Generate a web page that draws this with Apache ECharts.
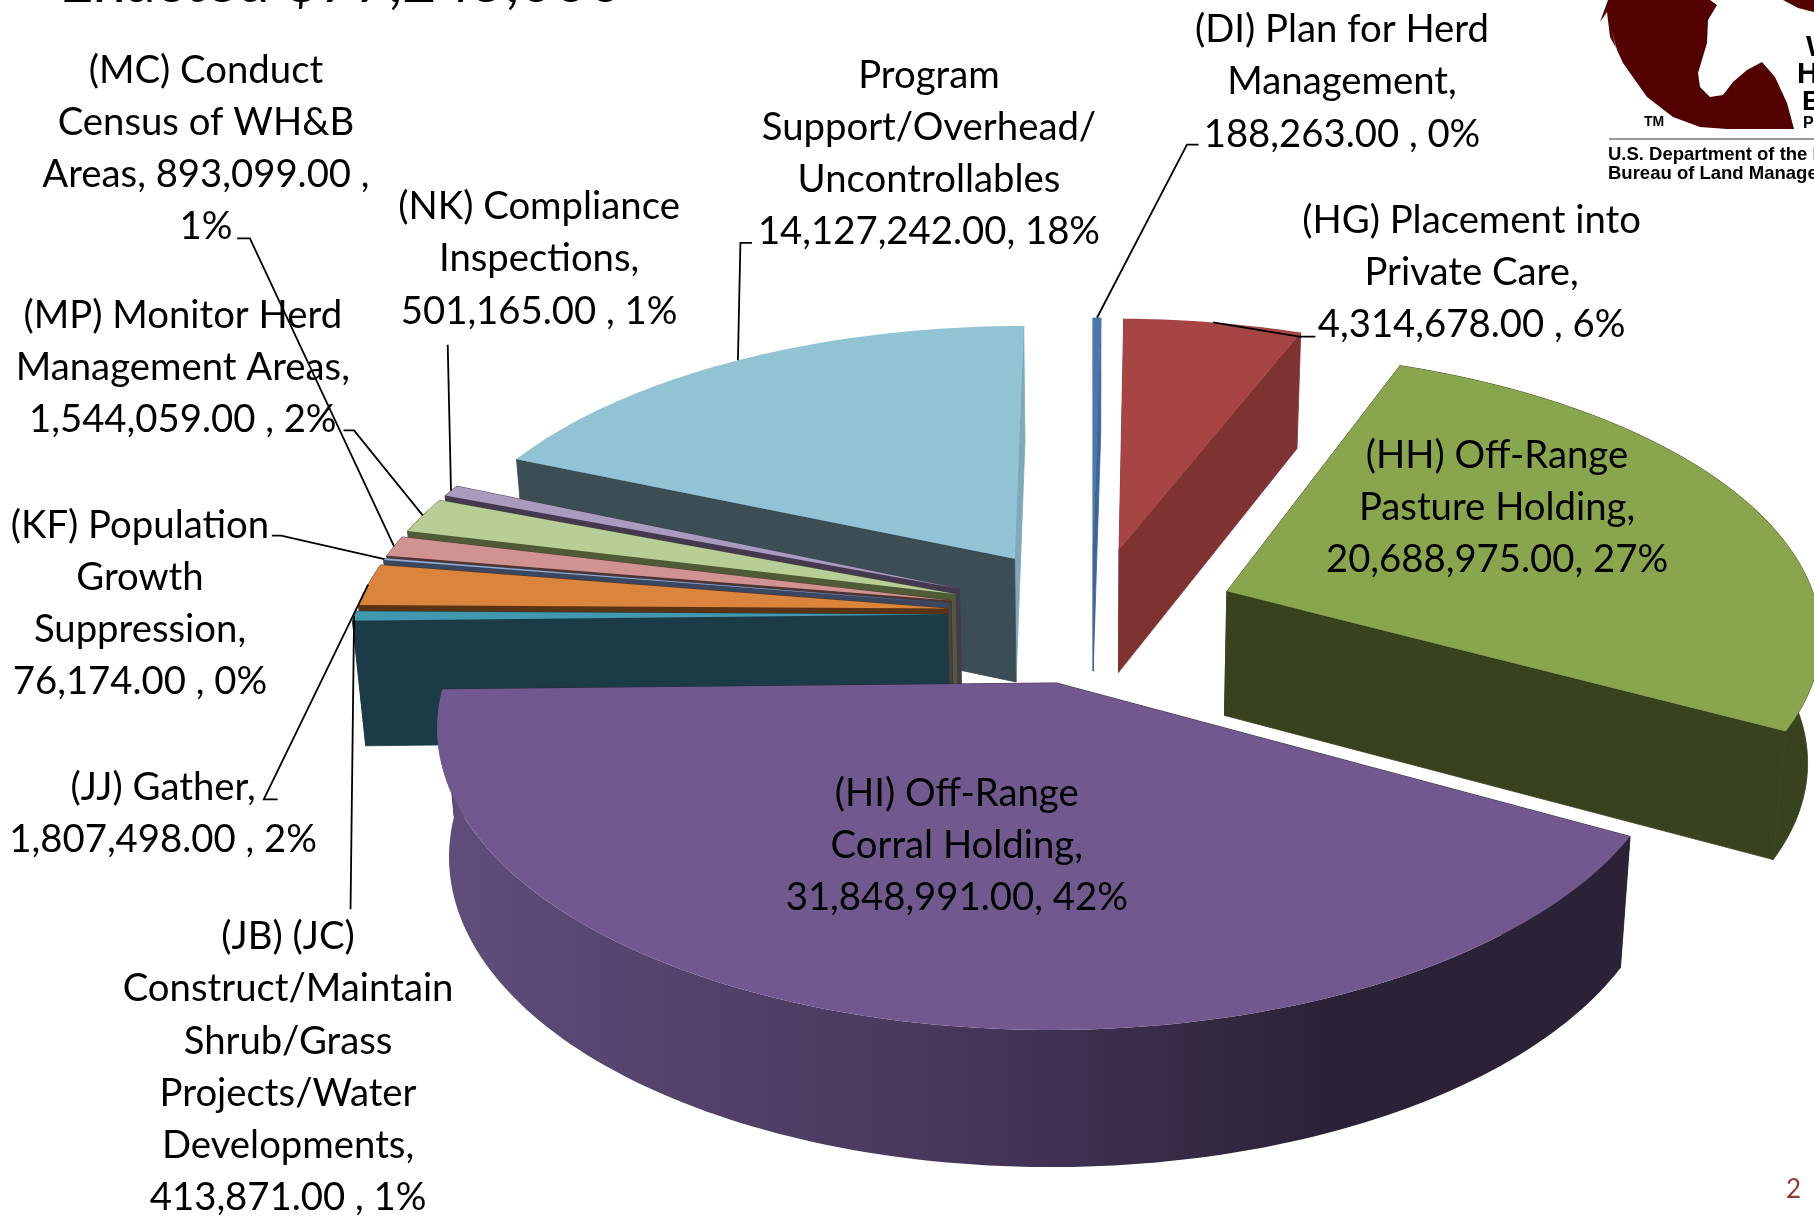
<!DOCTYPE html>
<html><head><meta charset="utf-8"><style>html,body{margin:0;padding:0;background:#fff;overflow:hidden}#c{width:1814px;height:1217px}</style>
<script src="https://cdn.jsdelivr.net/npm/echarts@6/dist/echarts.min.js"></script></head>
<body><div id="c"></div>
<script>
const categories = ["(DI) Plan for Herd Management","(HG) Placement into Private Care","(HH) Off-Range Pasture Holding","(HI) Off-Range Corral Holding","(JB) (JC) Construct/Maintain Shrub/Grass Projects/Water Developments","(JJ) Gather","(KF) Population Growth Suppression","(MC) Conduct Census of WH&B Areas","(MP) Monitor Herd Management Areas","(NK) Compliance Inspections","Program Support/Overhead/Uncontrollables"];
const values = [188263,4314678,20688975,31848991,413871,1807498,76174,893099,1544059,501165,14127242];
const labelLines = [
 ["(DI) Plan for Herd","Management,","188,263.00 , 0%"],
 ["(HG) Placement into","Private Care,","4,314,678.00 , 6%"],
 ["(HH) Off-Range","Pasture Holding,","20,688,975.00, 27%"],
 ["(HI) Off-Range","Corral Holding,","31,848,991.00, 42%"],
 ["(JB) (JC)","Construct/Maintain","Shrub/Grass","Projects/Water","Developments,","413,871.00 , 1%"],
 ["(JJ) Gather,","1,807,498.00 , 2%"],
 ["(KF) Population","Growth","Suppression,","76,174.00 , 0%"],
 ["(MC) Conduct","Census of WH&B","Areas, 893,099.00 ,","1%"],
 ["(MP) Monitor Herd","Management Areas,","1,544,059.00 , 2%"],
 ["(NK) Compliance","Inspections,","501,165.00 , 1%"],
 ["Program","Support/Overhead/","Uncontrollables","14,127,242.00, 18%"]
];
const topColors  = ["#4a76ad","#a64543","#89a54e","#71588f","#4198af","#db843d","#93a9cf","#d19392","#b9cd96","#a99bbd","#91c3d5"];
const wallColors = ["#3d6596","#7e3332","#38421e","#2b2238","#1b3b47","#5a3315","#3a4760","#4f3333","#4f5a38","#443a50","#3c4d55"];
const sideColors = ["#3d6596","#7e3332","#38421e","#2b2238","#1b3b47","#5a3315","#3a4760","#4f3333","#4f5a38","#443a50","#7da9ba"];
const backArc = [true,true,false,false,false,false,false,false,false,false,true];

// layout (px)
const S = 1814/1568;
const cx = 944*S, cy = 531*S, A = 512*S, B = 241*S, K = 0.137, EXPLODE = 0.245, RIM = 1;
const H = 108*S, LEAN = 0.982;
const labelX = [1160,1272,1294,827,249,141,121,178,158,466,803];
const labelY = [26,191,394,686,810,681,454,61,273,179,65];
const LINE = 45*S;
// leader elbow points per slice, in reference order (null = no leader)
const leaders = [
 [[1036,125],[1026,125]],
 [[1137,291],[1123,291]],
 null, null,
 [[303,786],[303,786]],
 [[240,691],[228,691]],
 [[235,463],[243,463]],
 [[205,206],[216,206]],
 [[297,372],[306,372]],
 [[387,298],[387,298]],
 [[650,210],[640,210]]
];

const total = values.reduce((a,b)=>a+b,0);
const cum = []; values.reduce((a,b,i)=>{cum[i]=a;return a+b;},0);
const ang = i => [cum[i]/total*2*Math.PI,(cum[i]+values[i])/total*2*Math.PI];
function project(u,v){const w=1-K*v;return {x:cx+A*u/w,y:cy+B*v/w,w};}
function lower(p){return [cx+(p.x-cx)*LEAN, p.y+H/Math.sqrt(p.w)];}
function ground(i,th,r){const [a,b]=ang(i);const m=(a+b)/2;
  return project(EXPLODE*Math.sin(m)+r*Math.sin(th),-EXPLODE*Math.cos(m)-r*Math.cos(th));}
function sliceShapes(i){
  const [a,b]=ang(i);const n=Math.max(4,Math.ceil((b-a)/0.02));
  const apex=ground(i,0,0);const rim=[];
  for(let k=0;k<=n;k++){rim.push(ground(i,a+(b-a)*k/n,RIM));}
  const top=[[apex.x,apex.y]].concat(rim.map(p=>[p.x,p.y]));
  const wallA=[[apex.x,apex.y],[rim[0].x,rim[0].y],lower(rim[0]),lower(apex)];
  const wallB=[[apex.x,apex.y],[rim[n].x,rim[n].y],lower(rim[n]),lower(apex)];
  const arc=rim.map(p=>[p.x,p.y]).concat(rim.slice().reverse().map(lower));
  return {top,wallA,wallB,arc,a,b,rim,apex};
}
function poly(points,fill,seam){return {type:'polygon',shape:{points},silent:true,style:{fill,stroke:seam||null,lineWidth:seam?0.8:0}};}
function renderSlice(params,api){
  const i=api.value(1);const s=sliceShapes(i);
  const walls=[
    {p:s.wallA,c:(Math.sin(s.a)<0?wallColors:sideColors)[i],d:-Math.cos(s.a)},
    {p:s.wallB,c:(Math.sin(s.b)<0?sideColors:wallColors)[i],d:-Math.cos(s.b)}
  ];
  if(i===1||i===2){walls[0].c=wallColors[i];walls[1].c=wallColors[i];}
  walls.sort((p,q)=>p.d-q.d);
  const arcFill=i===3?{type:'linear',x:0,y:0,x2:1,y2:0,colorStops:[{offset:0,color:'#604d7c'},{offset:.45,color:'#453659'},{offset:.75,color:'#2b2238'},{offset:1,color:'#2b2238'}]}:wallColors[i];
  const children=[];
  walls.forEach(w=>children.push(poly(w.p,w.c,w.c)));
  if(!backArc[i]) children.push(poly(s.arc,arcFill,i===3?null:wallColors[i]));
  children.push(poly(s.top,topColors[i]));
  return {type:'group',children};
}
function renderLabel(params,api){
  const i=api.value(1);const lines=labelLines[i];const children=[];
  const x=labelX[i]*S,y0=labelY[i]*S;
  lines.forEach((t,k)=>children.push({type:'text',silent:true,style:{text:t,x,y:y0+k*LINE,align:'center',verticalAlign:'middle',fill:'#000',font:'38.3px Lato'}}));
  if(leaders[i]){
    const [a,b]=ang(i);const end=ground(i,(a+b)/2,RIM);
    const pts=leaders[i].map(p=>[p[0]*S,p[1]*S]);pts.push([end.x,end.y]);
    children.push({type:'polyline',silent:true,shape:{points:pts},style:{stroke:'#000',lineWidth:1.8,fill:null}});
  }
  return {type:'group',children};
}
const order=values.map((v,i)=>i).sort((p,q)=>{
  const m=j=>{const [a,b]=ang(j);return -Math.cos((a+b)/2);};return m(p)-m(q);});
const chart=echarts.init(document.getElementById('c'),null,{renderer:'canvas',width:1814,height:1217});
chart.setOption({
  animation:false,backgroundColor:'#fff',
  title:{text:'Enacted $77,245,000',left:54,top:-52,textStyle:{fontFamily:'Lato',fontSize:59.5,fontWeight:400,color:'#000'}},
  series:[
   {type:'custom',coordinateSystem:'none',z:2,renderItem:renderSlice,silent:true,
    data:order.map(i=>({name:categories[i],value:[values[i],i]}))},
   {type:'custom',coordinateSystem:'none',z:3,renderItem:renderLabel,silent:true,
    data:values.map((v,i)=>({name:categories[i],value:[v,i]}))}
  ],
  graphic:[
   {type:'group',silent:true,z:1,children:[
    {type:'polygon',shape:{points:[[1608,0],[1600,22],[1607,12],[1610,37],[1616,48],[1611,28],[1617,50],[1623,63],[1647,97],[1673,117],[1700,127],[1727,129],[1794,129],[1787,103],[1775,77],[1762,62],[1747,70],[1733,82],[1723,95],[1710,97],[1700,87],[1698,73],[1707,43],[1708,20],[1717,5],[1710,0]]},style:{fill:'#520000'}},
    {type:'polygon',shape:{points:[[1783,0],[1814,0],[1814,12],[1798,8]]},style:{fill:'#520000'}},
    {type:'text',style:{text:'TM',x:1644,y:115,font:'bold 14px "Liberation Sans"',fill:'#000'}},
    {type:'line',shape:{x1:1609,y1:139,x2:1814,y2:139},style:{stroke:'#333',lineWidth:1}},
    {type:'text',style:{text:'U.S. Department of the Interior',x:1608,y:145,font:'bold 18.5px "Liberation Sans"',fill:'#000'}},
    {type:'text',style:{text:'Bureau of Land Management',x:1608,y:164,font:'bold 18.5px "Liberation Sans"',fill:'#000'}},
    {type:'text',style:{text:'Wild',x:1806,y:33,font:'bold 30px "Liberation Sans"',fill:'#000'}},
    {type:'text',style:{text:'Horse',x:1797,y:60,font:'bold 30px "Liberation Sans"',fill:'#000'}},
    {type:'text',style:{text:'Burro',x:1802,y:88,font:'bold 28px "Liberation Sans"',fill:'#000'}},
    {type:'text',style:{text:'Program',x:1803,y:116,font:'bold 16px "Liberation Sans"',fill:'#000'}},
    {type:'text',style:{text:'2',x:1786,y:1177,font:'26px Lato',fill:'#953735'}}
   ]}
  ]
});
</script></body></html>
